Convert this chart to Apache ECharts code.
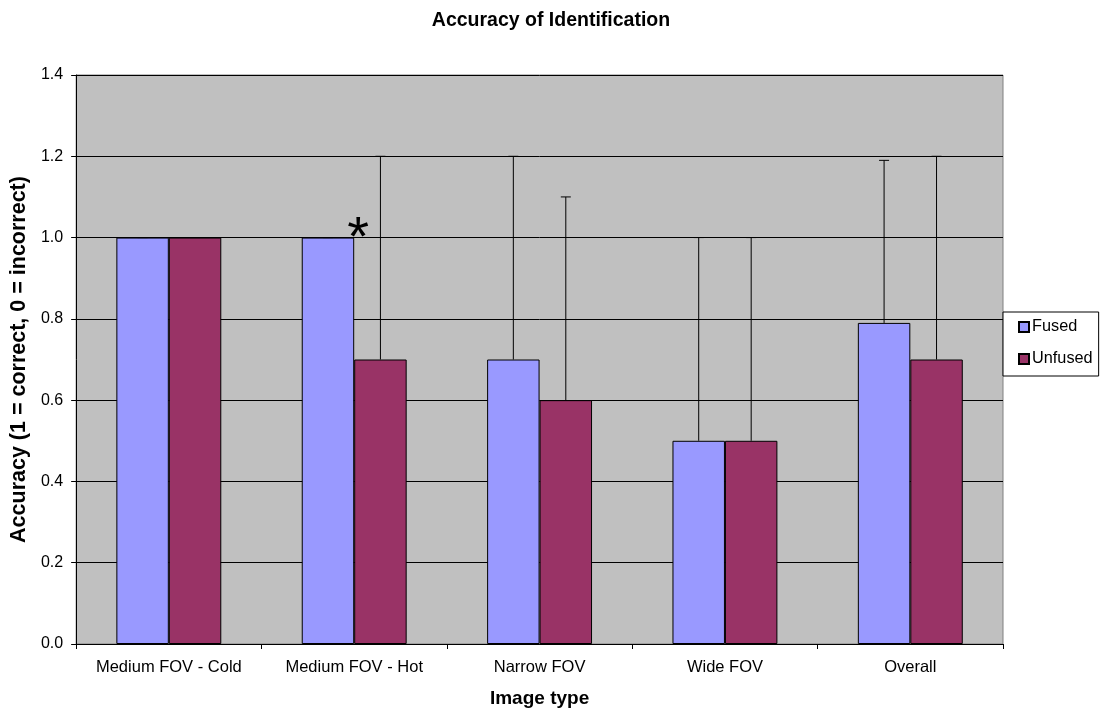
<!DOCTYPE html>
<html><head><meta charset="utf-8">
<script src="https://cdn.jsdelivr.net/npm/echarts@6/dist/echarts.min.js"></script>
<style>html,body{margin:0;padding:0;background:#fff}#c{width:1102px;height:713px}</style>
</head><body><div id="c"></div>
<script>
const categories = ['Medium FOV - Cold', 'Medium FOV - Hot', 'Narrow FOV', 'Wide FOV', 'Overall'];
const fused = [1.0, 1.0, 0.7, 0.5, 0.79];
const unfused = [1.0, 0.7, 0.6, 0.5, 0.7];
const fusedHigh = [1.0, 1.0, 1.2, 1.0, 1.19];
const unfusedHigh = [1.0, 1.2, 1.1, 1.0, 1.2];
const seriesNames = ['Fused', 'Unfused'];
const colors = ['#9999FF', '#993366'];
const BAR_FRAC = 0.283;

const chart = echarts.init(document.getElementById('c'));
const font = 'Liberation Sans, Arial, sans-serif';

function errorSeries(name, lows, highs, side) {
  return {
    type: 'custom',
    name: name + ' err',
    z: 5,
    silent: true,
    data: categories.map((c, i) => [i, lows[i], highs[i]]),
    renderItem: function (params, api) {
      const i = api.value(0);
      const lo = api.coord([i, api.value(1)]);
      const hi = api.coord([i, api.value(2)]);
      const band = api.size([1, 0])[0];
      const bw = band * BAR_FRAC;
      const x = lo[0] + side * bw / 2;
      const cap = 5;
      const st = { stroke: '#000', lineWidth: 1 };
      return {
        type: 'group',
        children: [
          { type: 'line', shape: { x1: x, y1: lo[1], x2: x, y2: hi[1] }, style: st },
          { type: 'line', shape: { x1: x - cap, y1: hi[1], x2: x + cap, y2: hi[1] }, style: st }
        ]
      };
    }
  };
}

chart.setOption({
  animation: false,
  title: {
    text: 'Accuracy of Identification', left: 'center', top: 6,
    textStyle: { fontFamily: font, fontSize: 19.5, fontWeight: 'bold', color: '#000' }
  },
  legend: {
    data: seriesNames.map(n => ({ name: n, icon: 'rect' })),
    orient: 'vertical', left: 1003, top: 312,
    itemWidth: 10, itemHeight: 10, itemGap: 14,
    padding: [6, 6, 8, 15],
    backgroundColor: '#fff', borderColor: '#000', borderWidth: 1,
    textStyle: { fontFamily: font, fontSize: 16.3, lineHeight: 18, color: '#000', padding: [0, 0, 0, -2] }
  },
  grid: {
    left: 75, right: 99, top: 75, bottom: 69,
    show: true, backgroundColor: '#C0C0C0', borderColor: '#808080', borderWidth: 1
  },
  xAxis: {
    type: 'category', data: categories,
    name: 'Image type', nameLocation: 'middle', nameGap: 45,
    nameTextStyle: { fontFamily: font, fontSize: 19, fontWeight: 'bold', color: '#000' },
    axisLine: { lineStyle: { color: '#000', width: 1 } },
    axisTick: { show: true, length: 5, interval: 0, lineStyle: { color: '#000' } },
    axisLabel: { fontFamily: font, fontSize: 16.5, color: '#000', margin: 15, interval: 0, hideOverlap: false }
  },
  yAxis: {
    type: 'value', min: 0, max: 1.4, interval: 0.2,
    name: 'Accuracy (1 = correct, 0 = incorrect)', nameLocation: 'middle', nameGap: 42,
    nameTextStyle: { fontFamily: font, fontSize: 21.5, fontWeight: 'bold', color: '#000' },
    axisLine: { show: true, lineStyle: { color: '#000', width: 1 } },
    axisTick: { show: true, length: 5, lineStyle: { color: '#000' } },
    axisLabel: { fontFamily: font, fontSize: 16, color: '#000', margin: 13, formatter: v => v.toFixed(1) },
    splitLine: { show: true, lineStyle: { color: '#000', width: 1 } }
  },
  series: [
    {
      type: 'bar', name: seriesNames[0], data: fused, barWidth: (BAR_FRAC * 100) + '%', barGap: '0%',
      itemStyle: { color: colors[0], borderColor: '#000', borderWidth: 1 }, z: 3
    },
    {
      type: 'bar', name: seriesNames[1], data: unfused, barWidth: (BAR_FRAC * 100) + '%', barGap: '0%',
      itemStyle: { color: colors[1], borderColor: '#000', borderWidth: 1 }, z: 3
    },
    errorSeries(seriesNames[0], fused, fusedHigh, -1),
    errorSeries(seriesNames[1], unfused, unfusedHigh, 1)
  ]
});

// significance asterisk above the Medium FOV - Hot fused bar
const p = chart.convertToPixel({ gridIndex: 0 }, [1, fused[1]]);
chart.setOption({
  graphic: [{
    type: 'text', x: p[0] + 4, y: p[1] + 2, z: 10,
    style: { text: '*', font: 'normal 56px ' + font, fill: '#000', textAlign: 'center', textVerticalAlign: 'middle' }
  }]
});
</script></body></html>
